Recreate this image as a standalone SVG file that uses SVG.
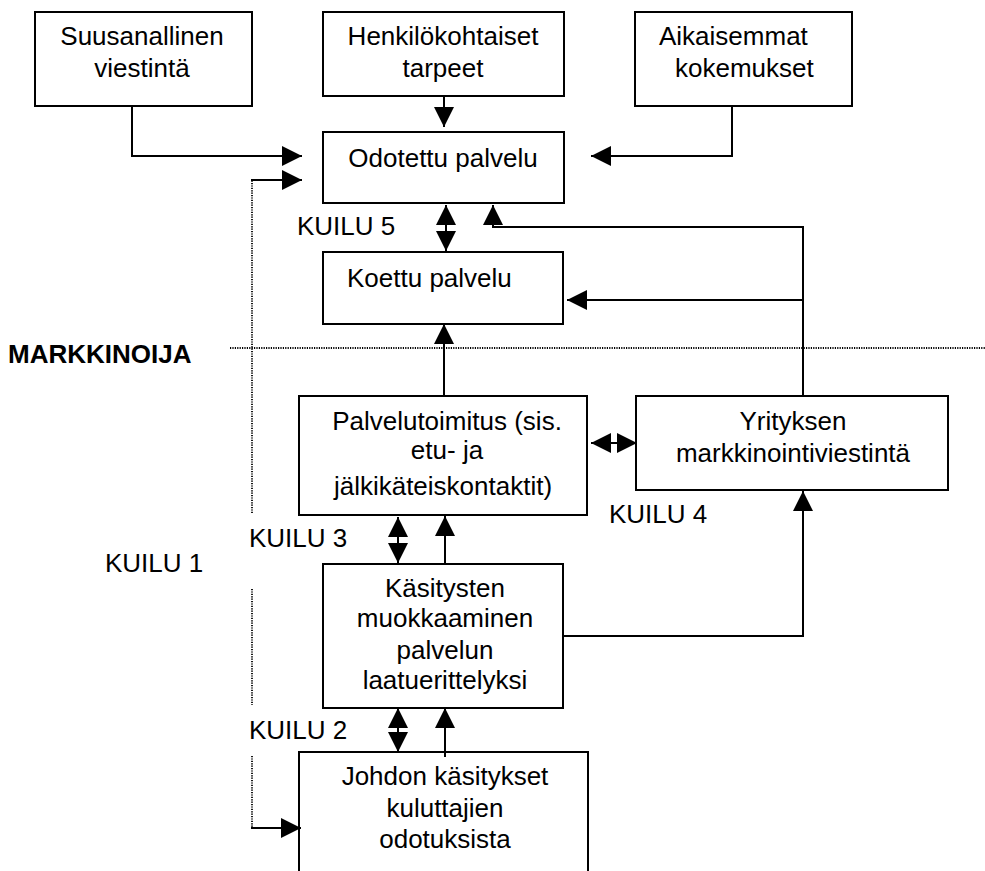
<svg xmlns="http://www.w3.org/2000/svg" width="985" height="871" viewBox="0 0 985 871">
<style>
.box{fill:#fff;stroke:#000;stroke-width:2}
.t{font-family:"Liberation Sans",Arial,sans-serif;font-size:26px;fill:#000}
.c{text-anchor:middle}
.b{font-weight:bold}
.ln{fill:none;stroke:#000;stroke-width:2}
.ar{fill:none;stroke:#000;stroke-width:2;marker-end:url(#ah)}
.dot{fill:none;stroke:#000;stroke-width:1.8;stroke-dasharray:1.2 1.2}
</style>
<defs>
<marker id="ah" viewBox="0 0 20 20" refX="20" refY="10" markerWidth="20" markerHeight="20" markerUnits="userSpaceOnUse" orient="auto">
<path d="M0,0 L20,10 L0,20 z" fill="#000"/>
</marker>
</defs>
<rect width="985" height="871" fill="#fff"/>

<g id="connectors">
<path class="dot" d="M230,348 H985"/>
<path class="dot" d="M252,513 V180"/>
<path class="dot" d="M252,589 V705"/>
<path class="dot" d="M252,756 V828"/>
<path class="ar" d="M132,106 V156 H302"/>
<path class="ar" d="M251,180 H302"/>
<path class="ar" d="M444,96 V127"/>
<path class="ar" d="M732,106 V156 H591"/>
<path class="ar" d="M446,228 V205"/>
<path class="ar" d="M446,228 V251"/>
<path class="ar" d="M803,396 V227 H493 V205"/>
<path class="ar" d="M803,300 H567"/>
<path class="ar" d="M444,396 V324"/>
<path class="ar" d="M613,443 H591"/>
<path class="ar" d="M613,443 H637"/>
<path class="ar" d="M398,540 V517"/>
<path class="ar" d="M398,540 V563"/>
<path class="ar" d="M445,563 V516"/>
<path class="ar" d="M563,636 H803 V491"/>
<path class="ar" d="M398,730 V708"/>
<path class="ar" d="M398,730 V752"/>
<path class="ar" d="M445,757 V708"/>
<path class="ar" d="M251,828 H301"/>
</g>

<g id="suusanallinen">
<rect class="box" x="35" y="12" width="217" height="94"/>
<text class="t c" x="142" y="45">Suusanallinen</text>
<text class="t c" x="142" y="77">viestintä</text>
</g>
<g id="henkilokohtaiset">
<rect class="box" x="323" y="12" width="241" height="84"/>
<text class="t c" x="443" y="45">Henkilökohtaiset</text>
<text class="t c" x="443" y="77">tarpeet</text>
</g>
<g id="aikaisemmat">
<rect class="box" x="635" y="12" width="217" height="94"/>
<text class="t" x="659" y="45">Aikaisemmat</text>
<text class="t" x="675" y="77">kokemukset</text>
</g>
<g id="odotettu">
<rect class="box" x="323" y="132" width="241" height="71"/>
<text class="t c" x="443" y="167">Odotettu palvelu</text>
</g>
<g id="koettu">
<rect class="box" x="323" y="252" width="240" height="72"/>
<text class="t" x="347" y="287">Koettu palvelu</text>
</g>
<g id="palvelutoimitus">
<rect class="box" x="299" y="396" width="288" height="119"/>
<text class="t c" x="447" y="430">Palvelutoimitus (sis.</text>
<text class="t c" x="447" y="459">etu- ja</text>
<text class="t c" x="443" y="495">jälkikäteiskontaktit)</text>
</g>
<g id="yrityksen">
<rect class="box" x="636" y="396" width="312" height="94"/>
<text class="t c" x="793" y="430">Yrityksen</text>
<text class="t c" x="793" y="462">markkinointiviestintä</text>
</g>
<g id="kasitysten">
<rect class="box" x="323" y="564" width="240" height="144"/>
<text class="t c" x="445" y="597">Käsitysten</text>
<text class="t c" x="445" y="627">muokkaaminen</text>
<text class="t c" x="445" y="659">palvelun</text>
<text class="t c" x="445" y="689">laatuerittelyksi</text>
</g>
<g id="johdon">
<path class="ln" d="M299,871 V752 H588 V871" fill="#fff"/>
<text class="t c" x="445" y="785">Johdon käsitykset</text>
<text class="t c" x="445" y="817">kuluttajien</text>
<text class="t c" x="445" y="848">odotuksista</text>
</g>

<g id="labels">
<text class="t b" x="8" y="363">MARKKINOIJA</text>
<text class="t" x="297" y="235">KUILU 5</text>
<text class="t" x="105" y="572">KUILU 1</text>
<text class="t" x="249" y="547">KUILU 3</text>
<text class="t" x="249" y="739">KUILU 2</text>
<text class="t" x="609" y="523">KUILU 4</text>
</g>
</svg>
